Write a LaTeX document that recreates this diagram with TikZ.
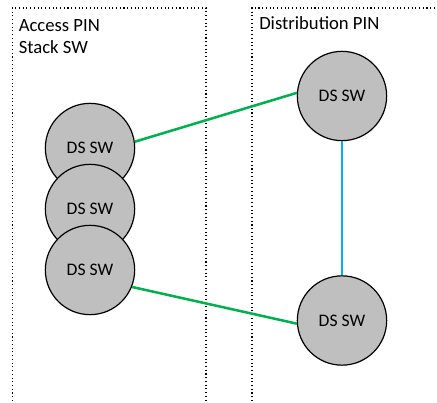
\documentclass[tikz,border=0pt]{standalone}
\usepackage{fontspec}
\setmainfont{Carlito}
\definecolor{dsgray}{RGB}{191,191,191}
\definecolor{lgreen}{RGB}{0,176,80}
\definecolor{lblue}{RGB}{0,176,240}
\begin{document}
\begin{tikzpicture}[x=0.75pt,y=-0.75pt,
  sw/.style={circle,draw=black,line width=0.9pt,fill=dsgray,minimum size=67pt,inner sep=0pt,font=\fontsize{13.2}{16}\selectfont},
  zone/.style={dotted,line width=0.8pt},
  title/.style={anchor=base west,inner sep=0pt,font=\fontsize{14}{16.7}\selectfont},
  glink/.style={draw=lgreen,line width=1.9pt},
  blink/.style={draw=lblue,line width=1.9pt}]
\useasboundingbox (0,0) rectangle (437,403);
% zones
\draw[zone] (12.5,401) -- (12.5,8) -- (206,8) -- (206,401);
\draw[zone] (252,401) -- (252,8) -- (440,8);
\node[title] (t1) at (18.5,31.7) {Access PIN};
\node[title] (t1b) at (18.5,54) {Stack SW};
\node[title] (t2) at (259,30) {Distribution PIN};
% switches
\node[sw] (a1) at (90,148) {DS SW};
\node[sw] (a2) at (90,209) {DS SW};
\node[sw] (a3) at (90,270) {DS SW};
\node[sw] (d1) at (342,96) {DS SW};
\node[sw] (d2) at (342,320.5) {DS SW};
% links
\draw[glink] (a1.8) -- (d1.176);
\draw[glink] (a3.-22) -- (d2.184);
\draw[blink] (d1.south) -- (d2.north);
\end{tikzpicture}
\end{document}
